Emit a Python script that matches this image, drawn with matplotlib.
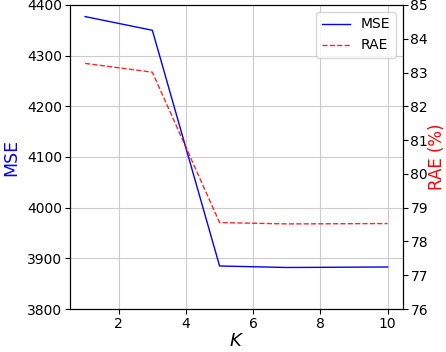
import matplotlib
matplotlib.use('Agg')
from matplotlib import pyplot as plt

# values
k_values = [1, 3, 5, 7, 10]
mse = [4377, 4350, 3885, 3882, 3883]
rae = [83.27, 83.01, 78.56, 78.52, 78.53]

fig = plt.figure(figsize=(4.46, 3.52), dpi=100)
ax1 = fig.add_subplot(111)
ax2 = ax1.twinx()

l1, = ax1.plot(k_values, mse, color='blue', linewidth=1, label='MSE')
l2, = ax2.plot(k_values, rae, color='red', linestyle='--', linewidth=1,
               alpha=0.85, label='RAE')

ax1.set_ylim(3800, 4400)
ax2.set_ylim(76, 85)
ax1.set_xticks([2, 4, 6, 8, 10])
ax1.grid(True, color='#cccccc', linewidth=0.8)

ax1.set_xlabel('$K$', fontsize=13, labelpad=1)
ax1.set_ylabel('MSE', color='blue', fontsize=12.5, labelpad=5)
ax2.set_ylabel('RAE (%)', color='red', fontsize=12, labelpad=0)
ax1.tick_params(labelsize=10, pad=2)
ax2.tick_params(labelsize=10, pad=2)

ax1.legend(handles=[l1, l2], loc='upper right', fontsize=10)

fig.subplots_adjust(left=0.157, right=0.903, top=0.986, bottom=0.122)
plt.savefig('out.png')
